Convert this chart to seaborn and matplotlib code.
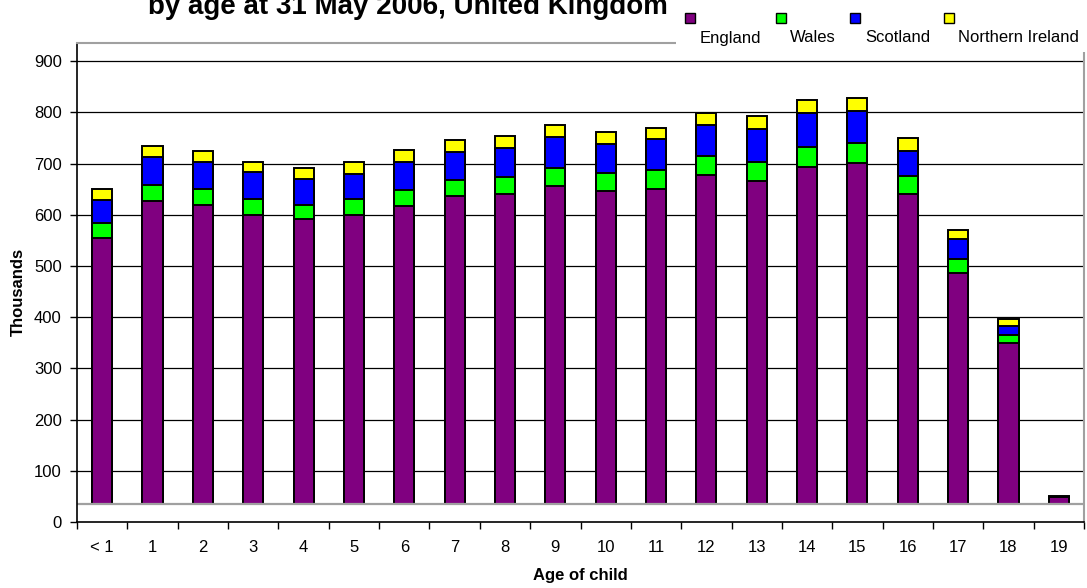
import pandas as pd
import numpy as np
import matplotlib
matplotlib.use("Agg")
import matplotlib.pyplot as plt
import seaborn as sns
from matplotlib.patches import Rectangle

ages = ['< 1', '1', '2', '3', '4', '5', '6', '7', '8', '9',
        '10', '11', '12', '13', '14', '15', '16', '17', '18', '19']
england = [555, 627, 620, 599, 591, 599, 618, 636, 640, 656,
           646, 650, 677, 666, 694, 701, 640, 487, 350, 48]
wales = [28, 32, 31, 32, 29, 31, 31, 32, 33, 36,
         36, 37, 37, 37, 39, 40, 35, 26, 15, 1]
scotland = [46, 53, 52, 52, 49, 50, 54, 54, 57, 59,
            56, 60, 61, 64, 66, 62, 49, 39, 17, 0.5]
n_ireland = [21, 23, 21, 21, 23, 23, 23, 24, 24, 25,
             24, 23, 24, 25, 26, 25, 26, 19, 14, 0.5]
series = ['England', 'Wales', 'Scotland', 'Northern Ireland']
colours = ['#800080', '#00ff00', '#0000ff', '#ffff00']
floor = 35  # excel 3d floor, bars start here

sns.set_style("white")
plt.rcParams['font.family'] = ['Liberation Sans', 'DejaVu Sans']
plt.rcParams.update({'text.color': 'black', 'axes.labelcolor': 'black',
                     'xtick.color': 'black', 'ytick.color': 'black'})

df = pd.DataFrame({'Age': ages, 'England': england, 'Wales': wales,
                   'Scotland': scotland, 'Northern Ireland': n_ireland})
cum = df[series].cumsum(axis=1)
cum['Age'] = df['Age']

fig = plt.figure(figsize=(10.87, 5.88), dpi=100)
ax = fig.add_axes([77 / 1087, 66 / 588, 1007 / 1087, 479.3 / 588])

# draw cumulative totals top-down so each layer shows its own segment
for name, col in reversed(list(zip(series, colours))):
    sns.barplot(data=cum, x='Age', y=name, color=col, width=0.4,
                edgecolor='black', linewidth=1.4, saturation=1, ax=ax, zorder=2)

ax.axhspan(0, floor, xmin=0.001, xmax=0.999, color='white', zorder=3)
ax.axhline(floor, color='#a0a0a0', lw=1.6, zorder=4)

ax.set_xlim(-0.5, 19.5)
ax.set_ylim(0, 936)
ax.set_yticks(range(0, 1000, 100))
ax.yaxis.grid(True, color='black', lw=0.9)
ax.set_axisbelow(True)

ax.set_xticks(np.arange(-0.5, 20, 1), minor=True)
ax.tick_params(axis='x', which='major', length=0, pad=13, labelsize=12)
ax.tick_params(axis='x', which='minor', length=5, width=1, color='black', direction='out')
ax.tick_params(axis='y', length=5, width=1, color='black', direction='out', pad=6, labelsize=12)
ax.xaxis.set_ticks_position('bottom')
ax.yaxis.set_ticks_position('left')

for s in ['top', 'right']:
    ax.spines[s].set_color('#a0a0a0')
    ax.spines[s].set_linewidth(1.5)
for s in ['left', 'bottom']:
    ax.spines[s].set_color('black')
    ax.spines[s].set_linewidth(1.2)
for s in ax.spines.values():
    s.set_zorder(5)

ax.set_xlabel('Age of child', fontsize=12, fontweight='bold', va='center')
ax.xaxis.set_label_coords(0.5, -0.1106)
ax.set_ylabel('Thousands', fontsize=12, fontweight='bold', va='center')
ax.yaxis.set_label_coords(-0.0586, 0.48)

fig.text(408 / 1087, 1 - 14 / 588, 'by age at 31 May 2006, United Kingdom',
         fontsize=20, fontweight='bold', ha='center', va='baseline')

# excel style legend: marker above label, white box over the wall edge
fig.patches.append(Rectangle((676 / 1087, 1 - 52 / 588), 411 / 1087, 52 / 588,
                             transform=fig.transFigure, facecolor='white',
                             edgecolor='none', zorder=6))
marker_x = [685, 776, 850, 944]
label_x = [700, 790, 865, 958]
for name, col, mx, lx in zip(series, colours, marker_x, label_x):
    fig.patches.append(Rectangle((mx / 1087, 1 - 23 / 588), 10 / 1087, 10 / 588,
                                 transform=fig.transFigure, facecolor=col,
                                 edgecolor='black', lw=1, zorder=7))
    fig.text(lx / 1087, 1 - 38 / 588, name, fontsize=12, ha='left', va='center', zorder=7)

fig.savefig('out.png', dpi=100)
